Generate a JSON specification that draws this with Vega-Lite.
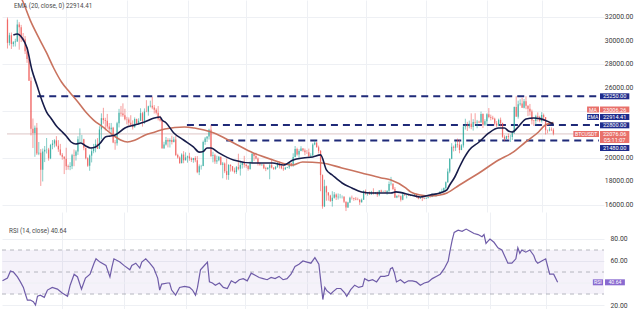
{
"$schema":"https://vega.github.io/schema/vega-lite/v6.json",
"padding":0,"spacing":0,"background":"white",
"config":{"view":{"stroke":null},"axis":{"domain":false,"ticks":false,"labelFont":"Roboto","labelFontSize":6.8,"labelColor":"#3a3a3a","gridColor":"#eef0f4","gridWidth":1,"minExtent":0,"labelOverlap":false},"text":{"font":"Roboto"}},
"datasets":{
"c":[
{"d":0,"o":31790,"h":31960,"l":29320,"c":29800},{"d":1,"o":29800,"h":30660,"l":29580,"c":30450},{"d":2,"o":30450,"h":30680,"l":29280,"c":29700},{"d":3,"o":29700,"h":29950,"l":29480,"c":29860},{"d":4,"o":29860,"h":30150,"l":29490,"c":29910},{"d":5,"o":29910,"h":31770,"l":29880,"c":31370},{"d":6,"o":31370,"h":31560,"l":29220,"c":31130},{"d":7,"o":31130,"h":31330,"l":29870,"c":30200},{"d":8,"o":30200,"h":30640,"l":29940,"c":30110},{"d":9,"o":30110,"h":30380,"l":28850,"c":29090},
{"d":10,"o":29090,"h":29440,"l":28100,"c":28420},{"d":11,"o":28420,"h":28540,"l":26560,"c":26580},{"d":12,"o":26580,"h":26880,"l":21920,"c":22480},{"d":13,"o":22480,"h":23360,"l":20850,"c":22130},{"d":14,"o":22130,"h":22760,"l":20100,"c":22580},{"d":15,"o":22580,"h":22980,"l":20250,"c":20380},{"d":16,"o":20380,"h":21360,"l":20240,"c":20450},{"d":17,"o":20450,"h":20760,"l":17620,"c":19000},{"d":18,"o":19000,"h":20800,"l":18000,"c":20550},{"d":19,"o":20550,"h":21020,"l":19650,"c":20700},
{"d":20,"o":20700,"h":21700,"l":20380,"c":20720},{"d":21,"o":20720,"h":20860,"l":19770,"c":19970},{"d":22,"o":19970,"h":21200,"l":19900,"c":21100},{"d":23,"o":21100,"h":21530,"l":20740,"c":21230},{"d":24,"o":21230,"h":21600,"l":20900,"c":21500},{"d":25,"o":21500,"h":21860,"l":20960,"c":21040},{"d":26,"o":21040,"h":21520,"l":20520,"c":20730},{"d":27,"o":20730,"h":21200,"l":20200,"c":20280},{"d":28,"o":20280,"h":20420,"l":19850,"c":20100},{"d":29,"o":20100,"h":20150,"l":18630,"c":19930},
{"d":30,"o":19930,"h":20870,"l":18970,"c":19300},{"d":31,"o":19300,"h":19440,"l":19000,"c":19240},{"d":32,"o":19240,"h":19640,"l":18960,"c":19300},{"d":33,"o":19300,"h":20350,"l":19050,"c":20230},{"d":34,"o":20230,"h":20720,"l":19300,"c":20180},{"d":35,"o":20180,"h":20670,"l":19780,"c":20550},{"d":36,"o":20550,"h":21850,"l":20260,"c":21600},{"d":37,"o":21600,"h":22520,"l":21180,"c":21600},{"d":38,"o":21600,"h":21960,"l":21320,"c":21600},{"d":39,"o":21600,"h":21630,"l":20660,"c":20860},
{"d":40,"o":20860,"h":20870,"l":19880,"c":19970},{"d":41,"o":19970,"h":20060,"l":19240,"c":19330},{"d":42,"o":19330,"h":20300,"l":18910,"c":20200},{"d":43,"o":20200,"h":20880,"l":19620,"c":20580},{"d":44,"o":20580,"h":21200,"l":20400,"c":20830},{"d":45,"o":20830,"h":21580,"l":20480,"c":21200},{"d":46,"o":21200,"h":21690,"l":20760,"c":20790},{"d":47,"o":20790,"h":22700,"l":20760,"c":22430},{"d":48,"o":22430,"h":23800,"l":21600,"c":23390},{"d":49,"o":23390,"h":24270,"l":22910,"c":23230},
{"d":50,"o":23230,"h":23420,"l":22340,"c":23160},{"d":51,"o":23160,"h":23750,"l":22500,"c":22680},{"d":52,"o":22680,"h":22980,"l":22250,"c":22450},{"d":53,"o":22450,"h":22980,"l":21950,"c":22580},{"d":54,"o":22580,"h":22650,"l":21260,"c":21310},{"d":55,"o":21310,"h":21530,"l":20700,"c":21250},{"d":56,"o":21250,"h":23080,"l":21050,"c":22950},{"d":57,"o":22950,"h":24180,"l":22600,"c":23850},{"d":58,"o":23850,"h":24430,"l":23520,"c":23780},{"d":59,"o":23780,"h":24650,"l":23500,"c":23640},
{"d":60,"o":23640,"h":24190,"l":23200,"c":23300},{"d":61,"o":23300,"h":23500,"l":22860,"c":23270},{"d":62,"o":23270,"h":23450,"l":22670,"c":22990},{"d":63,"o":22990,"h":23640,"l":22700,"c":22820},{"d":64,"o":22820,"h":23200,"l":22420,"c":22620},{"d":65,"o":22620,"h":23450,"l":22590,"c":23310},{"d":66,"o":23310,"h":23350,"l":22850,"c":22950},{"d":67,"o":22950,"h":23380,"l":22850,"c":23170},{"d":68,"o":23170,"h":24230,"l":23150,"c":23810},{"d":69,"o":23810,"h":23920,"l":22670,"c":23160},
{"d":70,"o":23160,"h":24220,"l":22900,"c":23950},{"d":71,"o":23950,"h":24920,"l":23900,"c":23940},{"d":72,"o":23940,"h":24450,"l":23600,"c":24400},{"d":73,"o":24400,"h":24880,"l":24300,"c":24440},{"d":74,"o":24440,"h":25200,"l":24150,"c":24300},{"d":75,"o":24300,"h":24500,"l":23780,"c":24100},{"d":76,"o":24100,"h":24230,"l":23700,"c":23850},{"d":77,"o":23850,"h":24420,"l":23200,"c":23340},{"d":78,"o":23340,"h":23600,"l":23100,"c":23190},{"d":79,"o":23190,"h":23200,"l":20780,"c":20830},
{"d":80,"o":20830,"h":21380,"l":20770,"c":21140},{"d":81,"o":21140,"h":21790,"l":21060,"c":21520},{"d":82,"o":21520,"h":21680,"l":20900,"c":21400},{"d":83,"o":21400,"h":21670,"l":20890,"c":21530},{"d":84,"o":21530,"h":21900,"l":21150,"c":21370},{"d":85,"o":21370,"h":21800,"l":21320,"c":21570},{"d":86,"o":21570,"h":21860,"l":20160,"c":20260},{"d":87,"o":20260,"h":20360,"l":19950,"c":20040},{"d":88,"o":20040,"h":20140,"l":19520,"c":19550},{"d":89,"o":19550,"h":20400,"l":19550,"c":20290},
{"d":90,"o":20290,"h":20580,"l":19550,"c":19800},{"d":91,"o":19800,"h":20480,"l":19790,"c":20050},{"d":92,"o":20050,"h":20200,"l":19600,"c":20130},{"d":93,"o":20130,"h":20440,"l":19760,"c":19950},{"d":94,"o":19950,"h":20050,"l":19660,"c":19830},{"d":95,"o":19830,"h":20010,"l":19590,"c":19990},{"d":96,"o":19990,"h":20150,"l":19640,"c":19800},{"d":97,"o":19800,"h":20160,"l":18700,"c":18790},{"d":98,"o":18790,"h":19450,"l":18540,"c":19290},{"d":99,"o":19290,"h":19420,"l":19010,"c":19320},
{"d":100,"o":19320,"h":21480,"l":19300,"c":21360},{"d":101,"o":21360,"h":21790,"l":21120,"c":21650},{"d":102,"o":21650,"h":21850,"l":21360,"c":21830},{"d":103,"o":21830,"h":22490,"l":21570,"c":22400},{"d":104,"o":22400,"h":22800,"l":20070,"c":20170},{"d":105,"o":20170,"h":20530,"l":19630,"c":20230},{"d":106,"o":20230,"h":20360,"l":19500,"c":19700},{"d":107,"o":19700,"h":20200,"l":19500,"c":19800},{"d":108,"o":19800,"h":20170,"l":19720,"c":20110},{"d":109,"o":20110,"h":20110,"l":19380,"c":19420},
{"d":110,"o":19420,"h":19660,"l":18270,"c":19540},{"d":111,"o":19540,"h":19620,"l":18710,"c":18880},{"d":112,"o":18880,"h":19950,"l":18150,"c":18550},{"d":113,"o":18550,"h":19470,"l":18140,"c":19410},{"d":114,"o":19410,"h":19460,"l":18840,"c":19300},{"d":115,"o":19300,"h":19310,"l":18840,"c":18930},{"d":116,"o":18930,"h":19180,"l":18680,"c":18800},{"d":117,"o":18800,"h":19320,"l":18640,"c":19220},{"d":118,"o":19220,"h":20360,"l":18950,"c":19080},{"d":119,"o":19080,"h":19760,"l":18500,"c":19410},
{"d":120,"o":19410,"h":19630,"l":19100,"c":19590},{"d":121,"o":19590,"h":20180,"l":19180,"c":19420},{"d":122,"o":19420,"h":19480,"l":19160,"c":19310},{"d":123,"o":19310,"h":19400,"l":18920,"c":19060},{"d":124,"o":19060,"h":19700,"l":19000,"c":19620},{"d":125,"o":19620,"h":20460,"l":19500,"c":20340},{"d":126,"o":20340,"h":20360,"l":19750,"c":20160},{"d":127,"o":20160,"h":20440,"l":19880,"c":19960},{"d":128,"o":19960,"h":20050,"l":19350,"c":19530},{"d":129,"o":19530,"h":19600,"l":19330,"c":19420},
{"d":130,"o":19420,"h":19520,"l":19320,"c":19440},{"d":131,"o":19440,"h":19510,"l":19050,"c":19130},{"d":132,"o":19130,"h":19250,"l":18880,"c":19060},{"d":133,"o":19060,"h":19220,"l":18990,"c":19160},{"d":134,"o":19160,"h":19500,"l":18190,"c":19380},{"d":135,"o":19380,"h":19930,"l":19100,"c":19180},{"d":136,"o":19180,"h":19220,"l":18980,"c":19070},{"d":137,"o":19070,"h":19300,"l":19000,"c":19260},{"d":138,"o":19260,"h":19680,"l":19160,"c":19550},{"d":139,"o":19550,"h":19690,"l":19100,"c":19330},
{"d":140,"o":19330,"h":19360,"l":19040,"c":19120},{"d":141,"o":19120,"h":19330,"l":18900,"c":19040},{"d":142,"o":19040,"h":19240,"l":18980,"c":19170},{"d":143,"o":19170,"h":19250,"l":19130,"c":19210},{"d":144,"o":19210,"h":19690,"l":19070,"c":19570},{"d":145,"o":19570,"h":19600,"l":19250,"c":19330},{"d":146,"o":19330,"h":20400,"l":19250,"c":20090},{"d":147,"o":20090,"h":21020,"l":20060,"c":20770},{"d":148,"o":20770,"h":20870,"l":20200,"c":20290},{"d":149,"o":20290,"h":20750,"l":20010,"c":20600},
{"d":150,"o":20600,"h":21000,"l":20570,"c":20810},{"d":151,"o":20810,"h":20850,"l":20530,"c":20630},{"d":152,"o":20630,"h":20800,"l":20230,"c":20490},{"d":153,"o":20490,"h":20680,"l":20340,"c":20480},{"d":154,"o":20480,"h":20800,"l":20050,"c":20150},{"d":155,"o":20150,"h":20400,"l":20050,"c":20210},{"d":156,"o":20210,"h":21260,"l":20180,"c":21150},{"d":157,"o":21150,"h":21480,"l":21080,"c":21300},{"d":158,"o":21300,"h":21360,"l":20890,"c":20910},{"d":159,"o":20910,"h":21050,"l":20390,"c":20600},
{"d":160,"o":20600,"h":20670,"l":17170,"c":18540},{"d":161,"o":18540,"h":18600,"l":15680,"c":15880},{"d":162,"o":15880,"h":18150,"l":15820,"c":17590},{"d":163,"o":17590,"h":17650,"l":16360,"c":17070},{"d":164,"o":17070,"h":17080,"l":16370,"c":16810},{"d":165,"o":16810,"h":16870,"l":16250,"c":16330},{"d":166,"o":16330,"h":17170,"l":15860,"c":16620},{"d":167,"o":16620,"h":17100,"l":16540,"c":16900},{"d":168,"o":16900,"h":16980,"l":16420,"c":16660},{"d":169,"o":16660,"h":16980,"l":16460,"c":16690},
{"d":170,"o":16690,"h":16940,"l":16560,"c":16700},{"d":171,"o":16700,"h":16810,"l":16550,"c":16700},{"d":172,"o":16700,"h":16750,"l":16160,"c":16280},{"d":173,"o":16280,"h":16300,"l":15480,"c":15780},{"d":174,"o":15780,"h":16270,"l":15750,"c":16200},{"d":175,"o":16200,"h":16700,"l":16160,"c":16610},{"d":176,"o":16610,"h":16800,"l":16460,"c":16600},{"d":177,"o":16600,"h":16620,"l":16350,"c":16520},{"d":178,"o":16520,"h":16680,"l":16400,"c":16460},{"d":179,"o":16460,"h":16620,"l":16400,"c":16440},
{"d":180,"o":16440,"h":16500,"l":16000,"c":16220},{"d":181,"o":16220,"h":16550,"l":16200,"c":16440},{"d":182,"o":16440,"h":17250,"l":16440,"c":17170},{"d":183,"o":17170,"h":17320,"l":16870,"c":16980},{"d":184,"o":16980,"h":17100,"l":16790,"c":17090},{"d":185,"o":17090,"h":17150,"l":16880,"c":16890},{"d":186,"o":16890,"h":17200,"l":16880,"c":17110},{"d":187,"o":17110,"h":17420,"l":16880,"c":16970},{"d":188,"o":16970,"h":17100,"l":16910,"c":17090},{"d":189,"o":17090,"h":17140,"l":16690,"c":16840},
{"d":190,"o":16840,"h":17270,"l":16740,"c":17220},{"d":191,"o":17220,"h":17300,"l":17060,"c":17130},{"d":192,"o":17130,"h":17220,"l":17090,"c":17130},{"d":193,"o":17130,"h":17270,"l":17070,"c":17090},{"d":194,"o":17090,"h":17240,"l":16870,"c":17210},{"d":195,"o":17210,"h":18000,"l":17090,"c":17780},{"d":196,"o":17780,"h":18390,"l":17660,"c":17810},{"d":197,"o":17810,"h":17850,"l":17280,"c":17360},{"d":198,"o":17360,"h":17520,"l":16590,"c":16630},{"d":199,"o":16630,"h":16800,"l":16580,"c":16780},
{"d":200,"o":16780,"h":16870,"l":16640,"c":16740},{"d":201,"o":16740,"h":16810,"l":16290,"c":16440},{"d":202,"o":16440,"h":17050,"l":16400,"c":16900},{"d":203,"o":16900,"h":16920,"l":16780,"c":16820},{"d":204,"o":16820,"h":16860,"l":16560,"c":16830},{"d":205,"o":16830,"h":16950,"l":16780,"c":16780},{"d":206,"o":16780,"h":16870,"l":16750,"c":16840},{"d":207,"o":16840,"h":16860,"l":16790,"c":16830},{"d":208,"o":16830,"h":16950,"l":16800,"c":16920},{"d":209,"o":16920,"h":16960,"l":16600,"c":16710},
{"d":210,"o":16710,"h":16770,"l":16480,"c":16550},{"d":211,"o":16550,"h":16660,"l":16510,"c":16630},{"d":212,"o":16630,"h":16640,"l":16330,"c":16600},{"d":213,"o":16600,"h":16630,"l":16490,"c":16540},{"d":214,"o":16540,"h":16630,"l":16520,"c":16620},{"d":215,"o":16620,"h":16790,"l":16550,"c":16680},{"d":216,"o":16680,"h":16770,"l":16610,"c":16670},{"d":217,"o":16670,"h":16990,"l":16660,"c":16850},{"d":218,"o":16850,"h":16880,"l":16750,"c":16830},{"d":219,"o":16830,"h":16990,"l":16680,"c":16950},
{"d":220,"o":16950,"h":16970,"l":16910,"c":16940},{"d":221,"o":16940,"h":17180,"l":16910,"c":17120},{"d":222,"o":17120,"h":17390,"l":17100,"c":17180},{"d":223,"o":17180,"h":17490,"l":17140,"c":17440},{"d":224,"o":17440,"h":18000,"l":17310,"c":17940},{"d":225,"o":17940,"h":19100,"l":17890,"c":18850},{"d":226,"o":18850,"h":19970,"l":18700,"c":19930},{"d":227,"o":19930,"h":21260,"l":19890,"c":20950},{"d":228,"o":20950,"h":21060,"l":20560,"c":20870},{"d":229,"o":20870,"h":21460,"l":20600,"c":21180},
{"d":230,"o":21180,"h":21650,"l":20880,"c":21130},{"d":231,"o":21130,"h":21560,"l":20400,"c":20680},{"d":232,"o":20680,"h":21180,"l":20660,"c":21070},{"d":233,"o":21070,"h":22750,"l":20880,"c":22670},{"d":234,"o":22670,"h":23340,"l":22420,"c":22780},{"d":235,"o":22780,"h":23080,"l":22300,"c":22710},{"d":236,"o":22710,"h":23180,"l":22520,"c":22920},{"d":237,"o":22920,"h":23800,"l":22450,"c":22630},{"d":238,"o":22630,"h":23300,"l":22330,"c":23060},{"d":239,"o":23060,"h":23810,"l":22880,"c":23010},
{"d":240,"o":23010,"h":23240,"l":22530,"c":23080},{"d":241,"o":23080,"h":23170,"l":22990,"c":23030},{"d":242,"o":23030,"h":23950,"l":23000,"c":23740},{"d":243,"o":23740,"h":23800,"l":22550,"c":22830},{"d":244,"o":22830,"h":23300,"l":22720,"c":23130},{"d":245,"o":23130,"h":23810,"l":22770,"c":23730},{"d":246,"o":23730,"h":24250,"l":23380,"c":23490},{"d":247,"o":23490,"h":23690,"l":23200,"c":23430},{"d":248,"o":23430,"h":23590,"l":23250,"c":23330},{"d":249,"o":23330,"h":23430,"l":22770,"c":22930},
{"d":250,"o":22930,"h":23150,"l":22640,"c":22760},{"d":251,"o":22760,"h":23350,"l":22710,"c":23250},{"d":252,"o":23250,"h":23440,"l":22680,"c":22960},{"d":253,"o":22960,"h":23010,"l":21710,"c":21800},{"d":254,"o":21800,"h":21930,"l":21460,"c":21630},{"d":255,"o":21630,"h":21900,"l":21600,"c":21860},{"d":256,"o":21860,"h":22080,"l":21620,"c":21780},{"d":257,"o":21780,"h":21990,"l":21360,"c":21780},{"d":258,"o":21780,"h":22320,"l":21530,"c":22200},{"d":259,"o":22200,"h":24380,"l":22050,"c":24330},
{"d":260,"o":24330,"h":25250,"l":23520,"c":23520},{"d":261,"o":23520,"h":24880,"l":23350,"c":24570},{"d":262,"o":24570,"h":25000,"l":24450,"c":24630},{"d":263,"o":24630,"h":25120,"l":24260,"c":24280},{"d":264,"o":24280,"h":25020,"l":24220,"c":24840},{"d":265,"o":24840,"h":25250,"l":24150,"c":24450},{"d":266,"o":24450,"h":24480,"l":23570,"c":24190},{"d":267,"o":24190,"h":24600,"l":23610,"c":23950},{"d":268,"o":23950,"h":24120,"l":22860,"c":23180},{"d":269,"o":23180,"h":23230,"l":22730,"c":23150},
{"d":270,"o":23150,"h":23680,"l":22800,"c":23550},{"d":271,"o":23550,"h":23880,"l":23110,"c":23490},{"d":272,"o":23490,"h":23600,"l":23030,"c":23140},{"d":273,"o":23140,"h":23900,"l":23020,"c":23650},{"d":274,"o":23650,"h":23780,"l":23190,"c":23470},{"d":275,"o":23470,"h":23480,"l":22000,"c":22360},{"d":276,"o":22360,"h":22420,"l":22100,"c":22350},{"d":277,"o":22350,"h":22620,"l":22260,"c":22430},{"d":278,"o":22430,"h":22600,"l":22290,"c":22410},{"d":279,"o":22410,"h":22530,"l":21930,"c":22076}
],
"ema":[{"d":3,"v":30470},{"d":5,"v":30550},{"d":7.5,"v":30210},{"d":10,"v":29360},{"d":12.5,"v":27490},{"d":15,"v":26210},{"d":17.5,"v":24940},{"d":20,"v":23910},{"d":22.5,"v":23320},{"d":25,"v":22720},{"d":27.5,"v":22300},{"d":30,"v":21870},{"d":32.5,"v":21360},{"d":35,"v":21190},{"d":37.5,"v":21280},{"d":40,"v":21020},{"d":42.5,"v":20850},{"d":45,"v":20940},{"d":47.5,"v":21280},{"d":50,"v":21790},{"d":52.5,"v":21870},{"d":55,"v":21960},{"d":60,"v":22550},{"d":65,"v":22810},{"d":70,"v":23060},{"d":75,"v":23400},{"d":78,"v":23490},{"d":79,"v":23240},{"d":81,"v":23000},{"d":85,"v":22130},{"d":90,"v":21530},{"d":95,"v":20940},{"d":98,"v":20500},{"d":100,"v":20550},{"d":102,"v":20850},{"d":104,"v":20850},{"d":108,"v":20430},{"d":115.5,"v":19830},{"d":125.5,"v":19570},{"d":135.5,"v":19570},{"d":141,"v":19400},{"d":146,"v":19830},{"d":151,"v":20000},{"d":156,"v":20090},{"d":160,"v":20260},{"d":163,"v":18980},{"d":166,"v":18550},{"d":171,"v":17870},{"d":176,"v":17450},{"d":181,"v":17110},{"d":186,"v":17020},{"d":196,"v":17020},{"d":198.5,"v":17110},{"d":206,"v":16850},{"d":211,"v":16680},{"d":216,"v":16850},{"d":221,"v":17020},{"d":224.6,"v":17280},{"d":226,"v":17700},{"d":228.6,"v":18380},{"d":231,"v":19230},{"d":233.7,"v":20090},{"d":236,"v":20680},{"d":241,"v":21360},{"d":246,"v":22130},{"d":251,"v":22550},{"d":254,"v":22550},{"d":256,"v":22300},{"d":258,"v":22210},{"d":261,"v":22640},{"d":265,"v":23320},{"d":269,"v":23400},{"d":272,"v":23350},{"d":275,"v":23200},{"d":277,"v":23050},{"d":279,"v":22914}],
"ma":[{"d":5,"v":34200},{"d":7.5,"v":33450},{"d":11.6,"v":31740},{"d":16.6,"v":30040},{"d":20,"v":28940},{"d":23.6,"v":27660},{"d":27.6,"v":26470},{"d":31.7,"v":25620},{"d":36,"v":24770},{"d":40,"v":23910},{"d":44,"v":23230},{"d":48.7,"v":22640},{"d":53.8,"v":21960},{"d":57.8,"v":21530},{"d":61.3,"v":21360},{"d":65.3,"v":21530},{"d":70.4,"v":21960},{"d":75.4,"v":22210},{"d":80.4,"v":22470},{"d":90.5,"v":22640},{"d":95.5,"v":22550},{"d":100.5,"v":22380},{"d":105.5,"v":22130},{"d":115.6,"v":21280},{"d":125.6,"v":20430},{"d":135.7,"v":19830},{"d":145.7,"v":19400},{"d":150.8,"v":19660},{"d":160.8,"v":19570},{"d":170.9,"v":19150},{"d":181,"v":18720},{"d":191,"v":18300},{"d":196,"v":18130},{"d":203.5,"v":17450},{"d":206,"v":17110},{"d":211,"v":16850},{"d":216,"v":16770},{"d":221,"v":16850},{"d":224.6,"v":17020},{"d":231,"v":17700},{"d":241,"v":18720},{"d":251,"v":19830},{"d":257.8,"v":20430},{"d":264.8,"v":21360},{"d":271.4,"v":22210},{"d":274.9,"v":22810},{"d":279,"v":23006}],
"rsi":[{"d":0,"v":42},{"d":2.5,"v":44.5},{"d":4,"v":51},{"d":5.5,"v":50},{"d":7.5,"v":45.5},{"d":9,"v":41},{"d":10.5,"v":36},{"d":11.5,"v":30},{"d":12.5,"v":24.5},{"d":14,"v":24.5},{"d":15.5,"v":23},{"d":16.6,"v":20},{"d":17.6,"v":28},{"d":19,"v":29},{"d":21,"v":27},{"d":22.6,"v":33.6},{"d":25,"v":36},{"d":27.6,"v":34.5},{"d":30,"v":31},{"d":32.7,"v":28},{"d":34,"v":38},{"d":36,"v":48},{"d":37.7,"v":45.5},{"d":39.7,"v":34.5},{"d":41.7,"v":44.5},{"d":44,"v":48},{"d":46,"v":58},{"d":47,"v":62},{"d":49,"v":59},{"d":52,"v":56},{"d":54,"v":45.5},{"d":55,"v":54.5},{"d":56,"v":62},{"d":59,"v":59},{"d":61,"v":56},{"d":64,"v":52},{"d":65,"v":56},{"d":67,"v":58},{"d":69,"v":53.6},{"d":70,"v":59},{"d":72,"v":62},{"d":74,"v":58},{"d":76,"v":53.6},{"d":78,"v":44.5},{"d":79,"v":33.6},{"d":80,"v":39},{"d":83,"v":40},{"d":84,"v":40},{"d":85,"v":33.6},{"d":87,"v":29},{"d":89,"v":36},{"d":91.5,"v":37},{"d":94,"v":36},{"d":95.5,"v":33.6},{"d":97,"v":29},{"d":98,"v":36},{"d":99.5,"v":52},{"d":101,"v":55},{"d":103,"v":59},{"d":104,"v":41},{"d":105.5,"v":40},{"d":107,"v":38},{"d":109,"v":40},{"d":111,"v":36},{"d":113,"v":35},{"d":115,"v":42},{"d":117,"v":40},{"d":119,"v":43},{"d":121,"v":44},{"d":123,"v":42},{"d":125,"v":49},{"d":127,"v":47},{"d":129,"v":45},{"d":131,"v":44},{"d":133,"v":43},{"d":135,"v":45},{"d":137,"v":44},{"d":139,"v":46},{"d":141,"v":43},{"d":143,"v":44},{"d":145,"v":48},{"d":147,"v":55},{"d":149,"v":57},{"d":151,"v":60},{"d":153,"v":59},{"d":155,"v":58},{"d":157,"v":63},{"d":159,"v":57},{"d":160,"v":41},{"d":161,"v":25},{"d":162,"v":36},{"d":163,"v":33},{"d":165,"v":30},{"d":166,"v":32},{"d":168,"v":35},{"d":170,"v":35},{"d":172,"v":31},{"d":173,"v":28},{"d":175,"v":34},{"d":177,"v":38},{"d":179,"v":36},{"d":181,"v":37},{"d":182,"v":44},{"d":184,"v":42},{"d":186,"v":43},{"d":188,"v":41},{"d":190,"v":46},{"d":192,"v":46},{"d":194,"v":47},{"d":195,"v":53},{"d":196,"v":54},{"d":197,"v":49},{"d":198,"v":41},{"d":200,"v":43},{"d":202,"v":40},{"d":204,"v":42},{"d":206,"v":42},{"d":208,"v":41},{"d":210,"v":38},{"d":212,"v":40},{"d":214,"v":41},{"d":216,"v":44},{"d":218,"v":46},{"d":220,"v":48},{"d":222,"v":53},{"d":224,"v":60},{"d":225,"v":70},{"d":226,"v":79},{"d":227,"v":86},{"d":229,"v":88},{"d":231,"v":87},{"d":233,"v":89},{"d":235,"v":87},{"d":237,"v":85},{"d":239,"v":84},{"d":241,"v":82},{"d":242,"v":84},{"d":243,"v":76},{"d":244,"v":78},{"d":245,"v":80},{"d":247,"v":77},{"d":249,"v":72},{"d":251,"v":70},{"d":253,"v":62},{"d":254,"v":58},{"d":256,"v":58},{"d":258,"v":62},{"d":259,"v":72},{"d":260,"v":67},{"d":261,"v":70},{"d":263,"v":68},{"d":265,"v":70},{"d":267,"v":65},{"d":268,"v":60},{"d":269,"v":58},{"d":271,"v":60},{"d":273,"v":62},{"d":275,"v":48},{"d":277,"v":48},{"d":279,"v":40.64}],
"lv":[{"p":25250,"s":15.2,"e":302.3},{"p":22800,"s":91.7,"e":302.3},{"p":21480,"s":111.8,"e":302.3}],
"tg":[{"k":"n","t":"25250.00","p":25250},{"k":"r","t":"23006.26","p":24127},{"k":"n","t":"22914.41","p":23489},{"k":"n","t":"22800.00","p":22780},{"k":"r","t":"22076.06","p":22042},{"k":"r","t":"05:11:07","p":21532},{"k":"n","t":"21480.00","p":20851}],
"lt":[{"k":"r","t":"MA","p":24127},{"k":"n","t":"EMA","p":23489}],
"pl":[{"g":16000},{"g":18000},{"g":20000},{"g":26000},{"g":28000},{"g":30000},{"g":32000}]
},
"vconcat":[
{"width":602,"height":212,
"layer":[
{"data":{"name":"c"},"mark":{"type":"rule","color":"#e9dede","strokeWidth":1},"encoding":{"y":{"datum":22076,"type":"quantitative","scale":{"domain":[15400,33450],"nice":false,"zero":false},"axis":{"orient":"right","title":null,"values":[16000,18000,20000,22000,24000,26000,28000,30000,32000],"labels":false,"grid":true}},"x":{"datum":-0.25,"type":"quantitative","scale":{"domain":[-0.25,302.3],"nice":false,"zero":false},"axis":{"title":null,"labels":false,"grid":true,"values":[30,61,92,122,153,183,214,245,273]}},"x2":{"datum":302.3}}},
{"data":{"name":"pl"},"mark":{"type":"text","color":"#3a3a3a","fontSize":6.8,"align":"left","baseline":"middle"},"encoding":{"x":{"datum":305.3,"type":"quantitative"},"y":{"field":"g","type":"quantitative"},"text":{"field":"g","type":"quantitative","format":".2f"}}},
{"data":{"name":"lv"},"mark":{"type":"rule","color":"#1f2a78","strokeWidth":2,"strokeDash":[7,5]},"encoding":{"x":{"field":"s","type":"quantitative"},"x2":{"field":"e"},"y":{"field":"p","type":"quantitative"}}},
{"data":{"name":"c"},"mark":{"type":"rule","strokeWidth":0.8,"opacity":0.7},"encoding":{"x":{"field":"d","type":"quantitative"},"y":{"field":"l","type":"quantitative"},"y2":{"field":"h"},"color":{"condition":{"test":"datum.c>=datum.o","value":"#26a69a"},"value":"#ef5350"}}},
{"data":{"name":"c"},"mark":{"type":"bar","width":1.3,"opacity":0.7},"encoding":{"x":{"field":"d","type":"quantitative"},"y":{"field":"o","type":"quantitative"},"y2":{"field":"c"},"color":{"condition":{"test":"datum.c>=datum.o","value":"#26a69a"},"value":"#ef5350"}}},
{"data":{"name":"ma"},"mark":{"type":"line","color":"#c9735f","strokeWidth":1.6,"clip":true,"interpolate":"monotone"},"encoding":{"x":{"field":"d","type":"quantitative"},"y":{"field":"v","type":"quantitative"}}},
{"data":{"name":"ema"},"mark":{"type":"line","color":"#171c4a","strokeWidth":1.6,"clip":true,"interpolate":"monotone"},"encoding":{"x":{"field":"d","type":"quantitative"},"y":{"field":"v","type":"quantitative"}}},
{"data":{"name":"tg"},"mark":{"type":"rect","yOffset":-3,"y2Offset":3},"encoding":{"x":{"datum":302.8,"type":"quantitative"},"x2":{"datum":317.8},"y":{"field":"p","type":"quantitative"},"y2":{"field":"p"},"color":{"field":"k","type":"nominal","scale":{"domain":["n","r"],"range":["#1f2c8c","#e8706a"]},"legend":null}}},
{"data":{"name":"tg"},"mark":{"type":"text","color":"white","fontSize":5.6,"align":"center","baseline":"middle"},"encoding":{"x":{"datum":310.3,"type":"quantitative"},"y":{"field":"p","type":"quantitative"},"text":{"field":"t"}}},
{"data":{"name":"lt"},"mark":{"type":"rect","yOffset":-3,"y2Offset":3},"encoding":{"x":{"datum":296.2,"type":"quantitative"},"x2":{"datum":302.3},"y":{"field":"p","type":"quantitative"},"y2":{"field":"p"},"color":{"field":"k","type":"nominal","legend":null}}},
{"data":{"name":"lt"},"mark":{"type":"text","color":"white","fontSize":5.2,"align":"center","baseline":"middle"},"encoding":{"x":{"datum":299.25,"type":"quantitative"},"y":{"field":"p","type":"quantitative"},"text":{"field":"t"}}},
{"data":{"values":[{"t":"BTCUSDT","p":22042}]},"mark":{"type":"rect","yOffset":-3,"y2Offset":3,"color":"#e8706a"},"encoding":{"x":{"datum":289.2,"type":"quantitative"},"x2":{"datum":302.3},"y":{"field":"p","type":"quantitative"},"y2":{"field":"p"}}},
{"data":{"values":[{"t":"BTCUSDT","p":22042}]},"mark":{"type":"text","color":"white","fontSize":5.2,"align":"center","baseline":"middle"},"encoding":{"x":{"datum":295.75,"type":"quantitative"},"y":{"field":"p","type":"quantitative"},"text":{"field":"t"}}},
{"data":{"values":[{"t":"EMA (20, close, 0)  22914.41"}]},"mark":{"type":"text","color":"#4a4a4a","fontSize":6.3,"align":"left","baseline":"middle"},"encoding":{"x":{"datum":3.3,"type":"quantitative"},"y":{"datum":32935,"type":"quantitative"},"text":{"field":"t"}}}
]},
{"width":602,"height":97,
"layer":[
{"data":{"values":[{"a":30,"b":70}]},"mark":{"type":"rect","color":"#7e57c2","opacity":0.08},"encoding":{"x":{"datum":-0.25,"type":"quantitative","scale":{"domain":[-0.25,302.3],"nice":false,"zero":false},"axis":{"title":null,"labels":false,"grid":true,"values":[30,61,92,122,153,183,214,245,273]}},"x2":{"datum":302.3},"y":{"field":"a","type":"quantitative","scale":{"domain":[16.4,104.5],"nice":false,"zero":false},"axis":{"orient":"right","title":null,"values":[20,60,80],"format":".2f","labelPadding":6,"grid":true,"labelOverlap":false,"labelBound":false}},"y2":{"field":"b"}}},
{"data":{"values":[{"g":40}]},"mark":{"type":"rule","color":"#eef0f4","strokeWidth":1},"encoding":{"x":{"datum":-0.25,"type":"quantitative"},"x2":{"datum":302.3},"y":{"field":"g","type":"quantitative"}}},
{"data":{"values":[{"v":70},{"v":50},{"v":30}]},"mark":{"type":"rule","color":"#a3a6af","strokeWidth":0.8,"strokeDash":[4,4]},"encoding":{"x":{"datum":-0.25,"type":"quantitative"},"x2":{"datum":302.3},"y":{"field":"v","type":"quantitative"}}},
{"data":{"name":"rsi"},"mark":{"type":"line","color":"#6f5ca8","strokeWidth":1.2},"encoding":{"x":{"field":"d","type":"quantitative"},"y":{"field":"v","type":"quantitative"}}},
{"data":{"values":[{"t":"RSI","v":40.64}]},"mark":{"type":"rect","yOffset":-3,"y2Offset":3,"color":"#8a6bd0"},"encoding":{"x":{"datum":296.7,"type":"quantitative"},"x2":{"datum":301.8},"y":{"field":"v","type":"quantitative"},"y2":{"field":"v"}}},
{"data":{"values":[{"t":"40.64","v":40.64}]},"mark":{"type":"rect","yOffset":-3,"y2Offset":3,"color":"#8a6bd0"},"encoding":{"x":{"datum":302.8,"type":"quantitative"},"x2":{"datum":312.8},"y":{"field":"v","type":"quantitative"},"y2":{"field":"v"}}},
{"data":{"values":[{"t":"RSI","v":40.64,"x":299.25},{"t":"40.64","v":40.64,"x":307.8}]},"mark":{"type":"text","color":"white","fontSize":5.2,"align":"center","baseline":"middle"},"encoding":{"x":{"field":"x","type":"quantitative"},"y":{"field":"v","type":"quantitative"},"text":{"field":"t"}}},
{"data":{"values":[{"t":"RSI (14, close)  40.64"}]},"mark":{"type":"text","color":"#4a4a4a","fontSize":6.3,"align":"left","baseline":"middle"},"encoding":{"x":{"datum":3.3,"type":"quantitative"},"y":{"datum":87.5,"type":"quantitative"},"text":{"field":"t"}}}
]}
]
}
